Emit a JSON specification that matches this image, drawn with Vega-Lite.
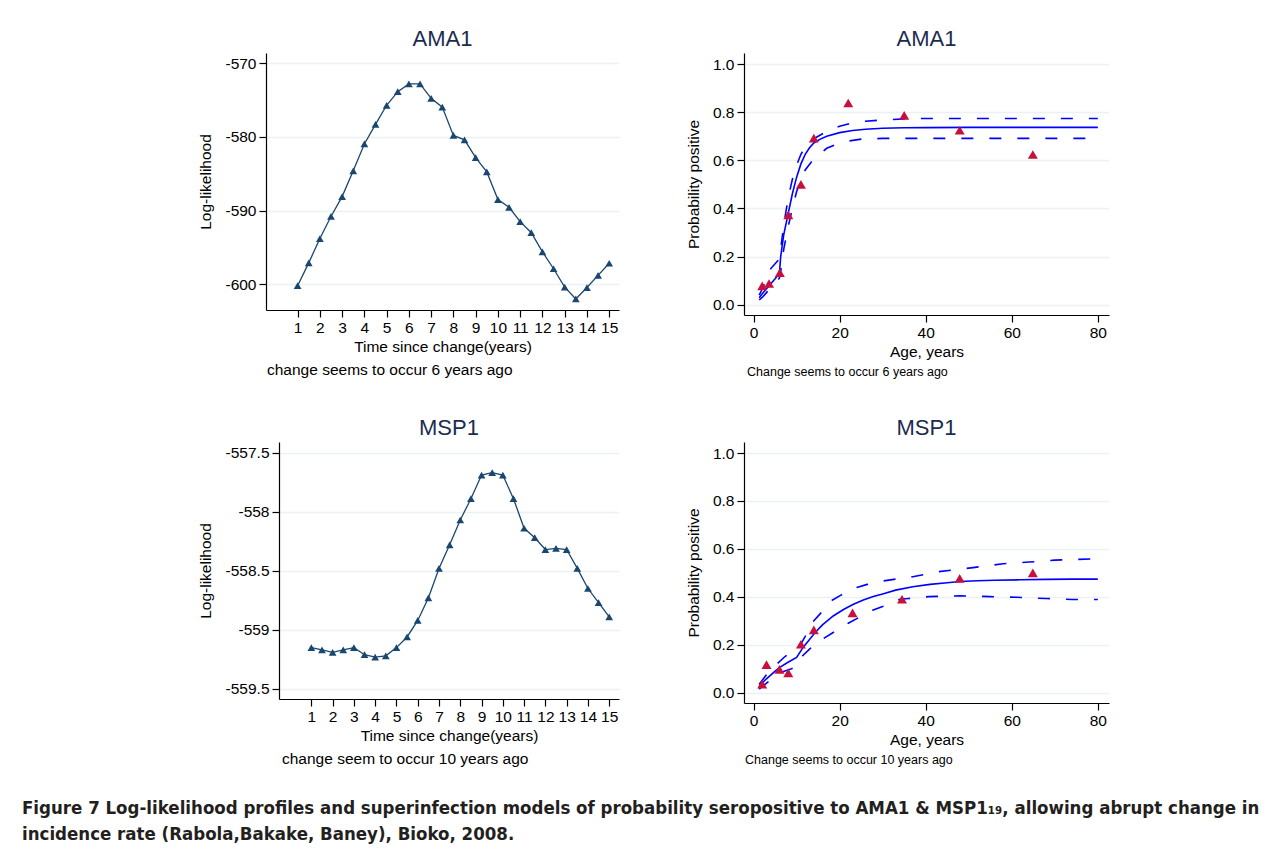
{
  "$schema": "https://vega.github.io/schema/vega-lite/v6.json",
  "padding": {"left": 22, "top": 28, "right": 5, "bottom": 10},
  "background": "white",
  "config": {
    "font": "Liberation Sans",
    "view": {"stroke": null},
    "locale": {"number": {"decimal": ".", "thousands": ",", "grouping": [3], "currency": ["$", ""], "minus": "-"}},
    "title": {"fontSize": 22, "fontWeight": "normal", "color": "#1c2b4e", "offset": 2, "font": "Liberation Sans"},
    "axis": {
      "labelFont": "Liberation Sans", "titleFont": "Liberation Sans",
      "labelFontSize": 15.5, "titleFontSize": 15.5, "titleFontWeight": "normal",
      "labelColor": "black", "titleColor": "black",
      "domainColor": "black", "domainWidth": 1.2, "tickColor": "black", "tickWidth": 1.2, "tickSize": 7,
      "gridColor": "#eaf2f3", "gridWidth": 1.6, "labelPadding": 3, "labelFlush": false, "labelOverlap": false
    },
    "axisX": {"grid": false, "labelAngle": 0, "titlePadding": 4},
    "axisY": {"grid": true, "titlePadding": 10}
  },
  "datasets": {
    "ama1_ll": [
      {"t": 1, "ll": -600.2}, {"t": 1.5, "ll": -597.1}, {"t": 2, "ll": -593.8}, {"t": 2.5, "ll": -590.8},
      {"t": 3, "ll": -588.1}, {"t": 3.5, "ll": -584.6}, {"t": 4, "ll": -580.95}, {"t": 4.5, "ll": -578.3},
      {"t": 5, "ll": -575.7}, {"t": 5.5, "ll": -573.85}, {"t": 6, "ll": -572.8}, {"t": 6.5, "ll": -572.8},
      {"t": 7, "ll": -574.75}, {"t": 7.5, "ll": -575.95}, {"t": 8, "ll": -579.8}, {"t": 8.5, "ll": -580.4},
      {"t": 9, "ll": -582.8}, {"t": 9.5, "ll": -584.75}, {"t": 10, "ll": -588.5}, {"t": 10.5, "ll": -589.55},
      {"t": 11, "ll": -591.5}, {"t": 11.5, "ll": -593.0}, {"t": 12, "ll": -595.6}, {"t": 12.5, "ll": -597.9},
      {"t": 13, "ll": -600.4}, {"t": 13.5, "ll": -602.0}, {"t": 14, "ll": -600.45}, {"t": 14.5, "ll": -598.8},
      {"t": 15, "ll": -597.15}
    ],
    "msp1_ll": [
      {"t": 1, "ll": -559.15}, {"t": 1.5, "ll": -559.17}, {"t": 2, "ll": -559.19}, {"t": 2.5, "ll": -559.17},
      {"t": 3, "ll": -559.15}, {"t": 3.5, "ll": -559.21}, {"t": 4, "ll": -559.23}, {"t": 4.5, "ll": -559.22},
      {"t": 5, "ll": -559.15}, {"t": 5.5, "ll": -559.06}, {"t": 6, "ll": -558.92}, {"t": 6.5, "ll": -558.73},
      {"t": 7, "ll": -558.48}, {"t": 7.5, "ll": -558.28}, {"t": 8, "ll": -558.07}, {"t": 8.5, "ll": -557.89},
      {"t": 9, "ll": -557.69}, {"t": 9.5, "ll": -557.67}, {"t": 10, "ll": -557.69}, {"t": 10.5, "ll": -557.89},
      {"t": 11, "ll": -558.14}, {"t": 11.5, "ll": -558.22}, {"t": 12, "ll": -558.32}, {"t": 12.5, "ll": -558.31},
      {"t": 13, "ll": -558.32}, {"t": 13.5, "ll": -558.48}, {"t": 14, "ll": -558.65}, {"t": 14.5, "ll": -558.77},
      {"t": 15, "ll": -558.89}
    ],
    "ama1_obs": [
      {"age": 2.0, "p": 0.078}, {"age": 3.6, "p": 0.088}, {"age": 6.1, "p": 0.133}, {"age": 8.06, "p": 0.373},
      {"age": 11.0, "p": 0.5}, {"age": 14.0, "p": 0.692}, {"age": 22.0, "p": 0.838}, {"age": 35.0, "p": 0.787},
      {"age": 47.9, "p": 0.725}, {"age": 64.9, "p": 0.624}
    ],
    "msp1_obs": [
      {"age": 2.0, "p": 0.036}, {"age": 3.0, "p": 0.117}, {"age": 6.0, "p": 0.097}, {"age": 8.06, "p": 0.083},
      {"age": 11.0, "p": 0.202}, {"age": 14.0, "p": 0.262}, {"age": 23.0, "p": 0.333}, {"age": 34.5, "p": 0.39},
      {"age": 47.9, "p": 0.477}, {"age": 64.9, "p": 0.5}
    ],
    "ama1_fit": [
      {"s": "fit", "age": 1.3, "p": 0.029}, {"s": "fit", "age": 2, "p": 0.045}, {"s": "fit", "age": 3, "p": 0.066},
      {"s": "fit", "age": 4, "p": 0.087}, {"s": "fit", "age": 5, "p": 0.108}, {"s": "fit", "age": 6, "p": 0.13},
      {"s": "fit", "age": 6.3, "p": 0.2}, {"s": "fit", "age": 7, "p": 0.29}, {"s": "fit", "age": 8, "p": 0.375},
      {"s": "fit", "age": 9, "p": 0.46}, {"s": "fit", "age": 10, "p": 0.53}, {"s": "fit", "age": 11, "p": 0.585},
      {"s": "fit", "age": 12, "p": 0.625}, {"s": "fit", "age": 13, "p": 0.652}, {"s": "fit", "age": 14, "p": 0.672},
      {"s": "fit", "age": 15.5, "p": 0.688}, {"s": "fit", "age": 17, "p": 0.7}, {"s": "fit", "age": 20, "p": 0.715},
      {"s": "fit", "age": 23, "p": 0.724}, {"s": "fit", "age": 26, "p": 0.729}, {"s": "fit", "age": 30, "p": 0.733},
      {"s": "fit", "age": 35, "p": 0.735}, {"s": "fit", "age": 40, "p": 0.736}, {"s": "fit", "age": 50, "p": 0.737},
      {"s": "fit", "age": 60, "p": 0.737}, {"s": "fit", "age": 70, "p": 0.737}, {"s": "fit", "age": 80, "p": 0.737},
      {"s": "hi", "age": 1.3, "p": 0.04}, {"s": "hi", "age": 2, "p": 0.065}, {"s": "hi", "age": 3, "p": 0.105},
      {"s": "hi", "age": 4, "p": 0.15}, {"s": "hi", "age": 5, "p": 0.17}, {"s": "hi", "age": 6, "p": 0.19},
      {"s": "hi", "age": 6.5, "p": 0.26}, {"s": "hi", "age": 7, "p": 0.33}, {"s": "hi", "age": 8, "p": 0.44},
      {"s": "hi", "age": 9, "p": 0.52}, {"s": "hi", "age": 10, "p": 0.58}, {"s": "hi", "age": 11, "p": 0.625},
      {"s": "hi", "age": 12, "p": 0.655}, {"s": "hi", "age": 13, "p": 0.675}, {"s": "hi", "age": 14.5, "p": 0.695},
      {"s": "hi", "age": 17, "p": 0.72}, {"s": "hi", "age": 20, "p": 0.742}, {"s": "hi", "age": 23, "p": 0.755},
      {"s": "hi", "age": 26, "p": 0.762}, {"s": "hi", "age": 30, "p": 0.768}, {"s": "hi", "age": 35, "p": 0.772},
      {"s": "hi", "age": 40, "p": 0.774}, {"s": "hi", "age": 50, "p": 0.774}, {"s": "hi", "age": 60, "p": 0.774},
      {"s": "hi", "age": 70, "p": 0.774}, {"s": "hi", "age": 80, "p": 0.774},
      {"s": "lo", "age": 1.3, "p": 0.02}, {"s": "lo", "age": 2, "p": 0.03}, {"s": "lo", "age": 3, "p": 0.05},
      {"s": "lo", "age": 4, "p": 0.07}, {"s": "lo", "age": 5, "p": 0.09}, {"s": "lo", "age": 6, "p": 0.11},
      {"s": "lo", "age": 6.5, "p": 0.16}, {"s": "lo", "age": 7, "p": 0.23}, {"s": "lo", "age": 8, "p": 0.32},
      {"s": "lo", "age": 9, "p": 0.4}, {"s": "lo", "age": 10, "p": 0.47}, {"s": "lo", "age": 11, "p": 0.52},
      {"s": "lo", "age": 12, "p": 0.56}, {"s": "lo", "age": 13.5, "p": 0.595}, {"s": "lo", "age": 15, "p": 0.62},
      {"s": "lo", "age": 17, "p": 0.65}, {"s": "lo", "age": 19, "p": 0.665}, {"s": "lo", "age": 22, "p": 0.68},
      {"s": "lo", "age": 25, "p": 0.688}, {"s": "lo", "age": 30, "p": 0.691}, {"s": "lo", "age": 40, "p": 0.691},
      {"s": "lo", "age": 50, "p": 0.691}, {"s": "lo", "age": 60, "p": 0.691}, {"s": "lo", "age": 70, "p": 0.691},
      {"s": "lo", "age": 80, "p": 0.691}
    ],
    "msp1_fit": [
      {"s": "fit", "age": 1.3, "p": 0.029}, {"s": "fit", "age": 3, "p": 0.058}, {"s": "fit", "age": 5, "p": 0.09},
      {"s": "fit", "age": 6.1, "p": 0.106}, {"s": "fit", "age": 8, "p": 0.127}, {"s": "fit", "age": 10, "p": 0.147},
      {"s": "fit", "age": 11.5, "p": 0.189}, {"s": "fit", "age": 13, "p": 0.222}, {"s": "fit", "age": 14.3, "p": 0.251},
      {"s": "fit", "age": 16, "p": 0.283}, {"s": "fit", "age": 18.5, "p": 0.32}, {"s": "fit", "age": 21, "p": 0.348},
      {"s": "fit", "age": 23.2, "p": 0.369}, {"s": "fit", "age": 25.5, "p": 0.387}, {"s": "fit", "age": 28, "p": 0.402},
      {"s": "fit", "age": 30, "p": 0.412}, {"s": "fit", "age": 33, "p": 0.428}, {"s": "fit", "age": 37, "p": 0.442},
      {"s": "fit", "age": 41, "p": 0.452}, {"s": "fit", "age": 45, "p": 0.459}, {"s": "fit", "age": 48, "p": 0.464},
      {"s": "fit", "age": 52, "p": 0.467}, {"s": "fit", "age": 56, "p": 0.469}, {"s": "fit", "age": 62, "p": 0.471},
      {"s": "fit", "age": 68, "p": 0.473}, {"s": "fit", "age": 74, "p": 0.474}, {"s": "fit", "age": 80, "p": 0.474},
      {"s": "hi", "age": 1.3, "p": 0.035}, {"s": "hi", "age": 3, "p": 0.075}, {"s": "hi", "age": 5.3, "p": 0.118},
      {"s": "hi", "age": 7.3, "p": 0.151}, {"s": "hi", "age": 9, "p": 0.172}, {"s": "hi", "age": 10, "p": 0.185},
      {"s": "hi", "age": 11.2, "p": 0.21}, {"s": "hi", "age": 12, "p": 0.235}, {"s": "hi", "age": 13.5, "p": 0.29},
      {"s": "hi", "age": 15.5, "p": 0.33}, {"s": "hi", "age": 18, "p": 0.383}, {"s": "hi", "age": 20.4, "p": 0.408},
      {"s": "hi", "age": 24, "p": 0.439}, {"s": "hi", "age": 26.4, "p": 0.452}, {"s": "hi", "age": 30, "p": 0.466},
      {"s": "hi", "age": 37, "p": 0.484}, {"s": "hi", "age": 43, "p": 0.505}, {"s": "hi", "age": 51, "p": 0.522},
      {"s": "hi", "age": 58, "p": 0.538}, {"s": "hi", "age": 64, "p": 0.545}, {"s": "hi", "age": 70, "p": 0.553},
      {"s": "hi", "age": 80, "p": 0.559},
      {"s": "lo", "age": 1.3, "p": 0.015}, {"s": "lo", "age": 3, "p": 0.04}, {"s": "lo", "age": 6, "p": 0.083},
      {"s": "lo", "age": 8.8, "p": 0.1}, {"s": "lo", "age": 10, "p": 0.11}, {"s": "lo", "age": 11.4, "p": 0.154},
      {"s": "lo", "age": 13, "p": 0.182}, {"s": "lo", "age": 16.4, "p": 0.228}, {"s": "lo", "age": 18.5, "p": 0.251},
      {"s": "lo", "age": 22, "p": 0.29}, {"s": "lo", "age": 24.2, "p": 0.311}, {"s": "lo", "age": 27.8, "p": 0.345},
      {"s": "lo", "age": 30, "p": 0.36}, {"s": "lo", "age": 34, "p": 0.39}, {"s": "lo", "age": 36, "p": 0.393},
      {"s": "lo", "age": 40.7, "p": 0.401}, {"s": "lo", "age": 48, "p": 0.404}, {"s": "lo", "age": 55, "p": 0.401},
      {"s": "lo", "age": 61, "p": 0.398}, {"s": "lo", "age": 68, "p": 0.393}, {"s": "lo", "age": 74, "p": 0.389},
      {"s": "lo", "age": 80, "p": 0.389}
    ],
    "empty": []
  },
  "title": {
    "text": ["Figure 7 Log-likelihood profiles and superinfection models of probability seropositive to AMA1 & MSP1₁₉, allowing abrupt change in", "incidence rate (Rabola,Bakake, Baney), Bioko, 2008."],
    "orient": "bottom", "anchor": "start", "frame": "bounds", "dx": -108, "offset": 31,
    "font": "DejaVu Sans Condensed, Liberation Sans Narrow, Liberation Sans", "fontWeight": "bold", "fontSize": 18.5, "color": "#231f20", "lineHeight": 26
  },
  "vconcat": [
    {
      "hconcat": [
        {"width": 1, "height": 1, "data": {"name": "empty"}, "mark": "point", "view": {"fill": "white", "stroke": null}},
        {
          "title": {"text": "change seems to occur 6 years ago", "orient": "bottom", "anchor": "start", "frame": "bounds", "dx": 69, "offset": 8, "fontSize": 15.5, "color": "black"},
          "vconcat": [{
            "title": "AMA1",
            "width": 353, "height": 257,
            "data": {"name": "ama1_ll"},
            "encoding": {
              "x": {"field": "t", "type": "quantitative", "scale": {"domain": [-0.42, 15.44], "nice": false, "zero": false},
                    "axis": {"values": [1,2,3,4,5,6,7,8,9,10,11,12,13,14,15], "title": "Time since change(years)"}},
              "y": {"field": "ll", "type": "quantitative", "scale": {"domain": [-603.5, -568.6], "nice": false, "zero": false},
                    "axis": {"values": [-600, -590, -580, -570], "format": "d", "title": "Log-likelihood", "titleX": -53}}
            },
            "layer": [
              {"mark": {"type": "line", "color": "#1a476f", "strokeWidth": 1.3}},
              {"mark": {"type": "point", "shape": "triangle-up", "filled": true, "color": "#1a476f", "size": 60, "opacity": 1}}
            ]
          }]
        },
        {
          "title": {"text": "Change seems to occur 6 years ago", "orient": "bottom", "anchor": "start", "frame": "bounds", "dx": 61, "offset": 6, "fontSize": 12.5, "color": "black"},
          "vconcat": [{
            "title": "AMA1",
            "width": 365, "height": 262,
            "encoding": {
              "x": {"field": "age", "type": "quantitative", "scale": {"domain": [-2.23, 82.6], "nice": false, "zero": false},
                    "axis": {"values": [0, 20, 40, 60, 80], "title": "Age, years"}},
              "y": {"field": "p", "type": "quantitative", "scale": {"domain": [-0.043, 1.046], "nice": false, "zero": false},
                    "axis": {"values": [0, 0.2, 0.4, 0.6, 0.8, 1.0], "format": ".1f", "title": "Probability positive", "titleX": -43}}
            },
            "layer": [
              {"data": {"name": "ama1_fit"}, "transform": [{"filter": "datum.s === 'hi'"}], "mark": {"type": "line", "color": "#0000ff", "strokeWidth": 1.6, "strokeDash": [12, 16]}},
              {"data": {"name": "ama1_fit"}, "transform": [{"filter": "datum.s === 'lo'"}], "mark": {"type": "line", "color": "#0000ff", "strokeWidth": 1.6, "strokeDash": [12, 16]}},
              {"data": {"name": "ama1_fit"}, "transform": [{"filter": "datum.s === 'fit'"}], "mark": {"type": "line", "color": "#0000ff", "strokeWidth": 1.6}},
              {"data": {"name": "ama1_obs"}, "mark": {"type": "point", "shape": "triangle-up", "filled": true, "color": "#c8103c", "size": 100, "opacity": 1}}
            ]
          }]
        }
      ],
      "spacing": 67
    },
    {
      "hconcat": [
        {"width": 1, "height": 1, "data": {"name": "empty"}, "mark": "point", "view": {"fill": "white", "stroke": null}},
        {
          "title": {"text": "change seem to occur 10 years ago", "orient": "bottom", "anchor": "start", "frame": "bounds", "dx": 84, "offset": 8, "fontSize": 15.5, "color": "black"},
          "vconcat": [{
            "title": "MSP1",
            "width": 340, "height": 257,
            "data": {"name": "msp1_ll"},
            "encoding": {
              "x": {"field": "t", "type": "quantitative", "scale": {"domain": [-0.52, 15.46], "nice": false, "zero": false},
                    "axis": {"values": [1,2,3,4,5,6,7,8,9,10,11,12,13,14,15], "title": "Time since change(years)"}},
              "y": {"field": "ll", "type": "quantitative", "scale": {"domain": [-559.585, -557.41], "nice": false, "zero": false},
                    "axis": {"values": [-559.5, -559, -558.5, -558, -557.5], "format": "~g", "title": "Log-likelihood", "titleX": -66}}
            },
            "layer": [
              {"mark": {"type": "line", "color": "#1a476f", "strokeWidth": 1.3}},
              {"mark": {"type": "point", "shape": "triangle-up", "filled": true, "color": "#1a476f", "size": 60, "opacity": 1}}
            ]
          }]
        },
        {
          "title": {"text": "Change seems to occur 10 years ago", "orient": "bottom", "anchor": "start", "frame": "bounds", "dx": 59, "offset": 6, "fontSize": 12.5, "color": "black"},
          "vconcat": [{
            "title": "MSP1",
            "width": 365, "height": 261,
            "encoding": {
              "x": {"field": "age", "type": "quantitative", "scale": {"domain": [-2.23, 82.6], "nice": false, "zero": false},
                    "axis": {"values": [0, 20, 40, 60, 80], "title": "Age, years"}},
              "y": {"field": "p", "type": "quantitative", "scale": {"domain": [-0.043, 1.046], "nice": false, "zero": false},
                    "axis": {"values": [0, 0.2, 0.4, 0.6, 0.8, 1.0], "format": ".1f", "title": "Probability positive", "titleX": -43}}
            },
            "layer": [
              {"data": {"name": "msp1_fit"}, "transform": [{"filter": "datum.s === 'hi'"}], "mark": {"type": "line", "color": "#0000ff", "strokeWidth": 1.6, "strokeDash": [12, 16]}},
              {"data": {"name": "msp1_fit"}, "transform": [{"filter": "datum.s === 'lo'"}], "mark": {"type": "line", "color": "#0000ff", "strokeWidth": 1.6, "strokeDash": [12, 16]}},
              {"data": {"name": "msp1_fit"}, "transform": [{"filter": "datum.s === 'fit'"}], "mark": {"type": "line", "color": "#0000ff", "strokeWidth": 1.6}},
              {"data": {"name": "msp1_obs"}, "mark": {"type": "point", "shape": "triangle-up", "filled": true, "color": "#c8103c", "size": 100, "opacity": 1}}
            ]
          }]
        }
      ],
      "spacing": 67
    }
  ],
  "spacing": 38
}
